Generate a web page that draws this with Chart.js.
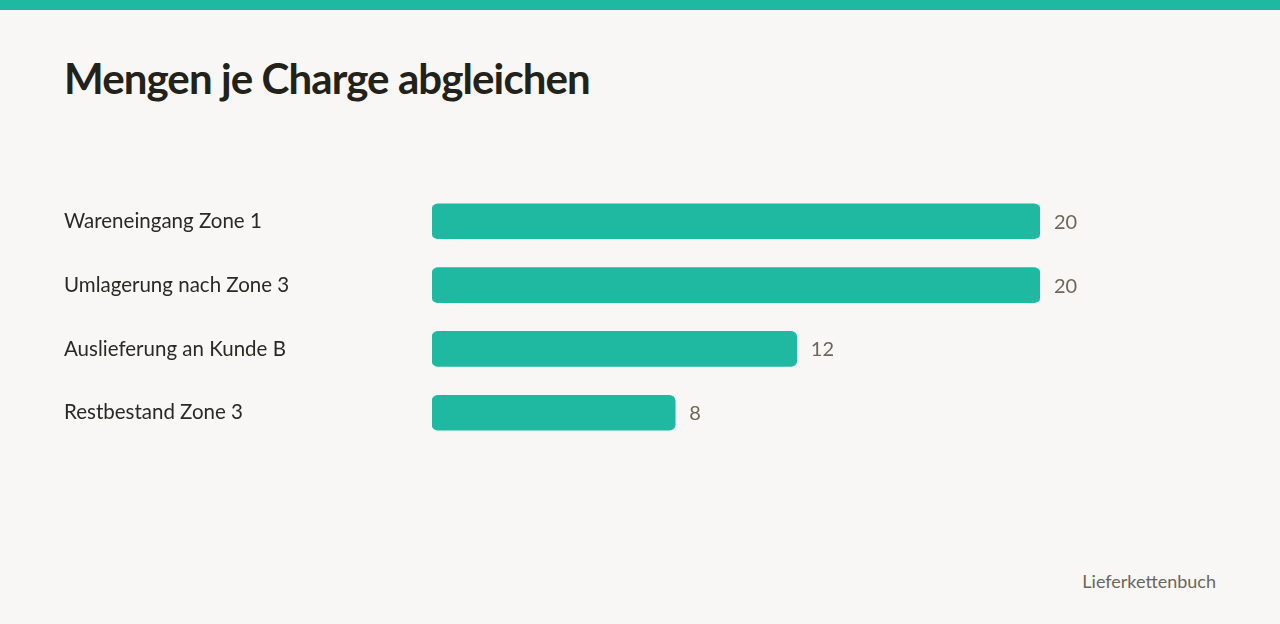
<!DOCTYPE html>
<html>
<head>
<meta charset="utf-8">
<script src="https://cdn.jsdelivr.net/npm/chart.js@4.4.1/dist/chart.umd.min.js"></script>
<style>
  html, body { margin: 0; padding: 0; }
  body { width: 1280px; height: 624px; background: #f8f7f5; position: relative; overflow: hidden; font-family: Lato, "Noto Sans", sans-serif; }
  .topbar { position: absolute; left: 0; top: 0; width: 1280px; height: 10px; background: #1fb8a0; }
  h1 { position: absolute; left: 64px; top: 53px; margin: 0; font-size: 42px; font-weight: 700; color: #22221a; letter-spacing: -0.9px; }
  .chartbox { position: absolute; left: 64px; top: 177px; width: 1152px; height: 280px; }
  .footer { position: absolute; right: 64px; top: 570px; font-size: 18px; color: #6b675c; }
</style>
</head>
<body>
<div class="topbar"></div>
<h1>Mengen je Charge abgleichen</h1>
<div class="chartbox"><canvas id="c"></canvas></div>
<div class="footer">Lieferkettenbuch</div>
<script>
const categories = ["Wareneingang Zone 1", "Umlagerung nach Zone 3", "Auslieferung an Kunde B", "Restbestand Zone 3"];
const quantities = [20, 20, 12, 8];
const xMax = 20;

const valueLabels = {
  id: 'valueLabels',
  afterDatasetsDraw(chart) {
    const ctx = chart.ctx;
    const meta = chart.getDatasetMeta(0);
    ctx.save();
    ctx.font = '20px Lato, "Noto Sans", sans-serif';
    ctx.fillStyle = '#6b675c';
    ctx.textAlign = 'left';
    ctx.textBaseline = 'middle';
    meta.data.forEach((bar, i) => {
      ctx.fillText(String(chart.data.datasets[0].data[i]), bar.x + 14, bar.y + 1);
    });
    ctx.restore();
  }
};

new Chart(document.getElementById('c'), {
  type: 'bar',
  data: {
    labels: categories,
    datasets: [{
      data: quantities,
      backgroundColor: '#1fb8a0',
      borderRadius: 6,
      borderSkipped: false,
      barThickness: 35
    }]
  },
  options: {
    indexAxis: 'y',
    responsive: true,
    maintainAspectRatio: false,
    animation: false,
    layout: { padding: { left: 0, right: 176, top: 0, bottom: 0 } },
    plugins: { legend: { display: false }, tooltip: { enabled: false } },
    scales: {
      x: { display: false, min: 0, max: xMax },
      y: {
        grid: { display: false },
        border: { display: false },
        afterFit(scale) { scale.width = 368; },
        ticks: {
          crossAlign: 'far',
          color: '#2a2a25',
          font: { family: 'Lato, "Noto Sans", sans-serif', size: 20.5 },
          padding: 0
        }
      }
    }
  },
  plugins: [valueLabels]
});
</script>
</body>
</html>
